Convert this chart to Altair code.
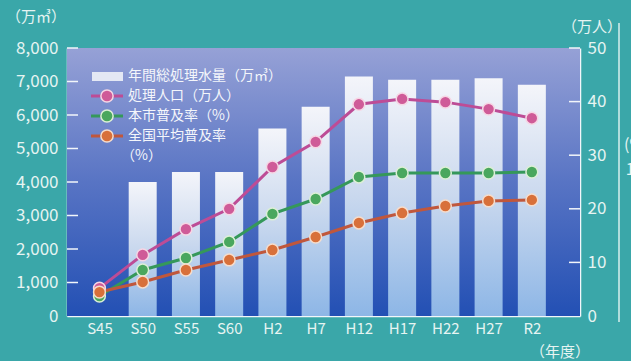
import altair as alt
import pandas as pd

# ---- data ----
years = ["S45", "S50", "S55", "S60", "H2", "H7", "H12", "H17", "H22", "H27", "R2"]
volume = [None, 4000, 4300, 4300, 5600, 6250, 7150, 7050, 7050, 7100, 6900]      # 万㎥
population = [5.2, 11.4, 16.2, 20.0, 27.8, 32.5, 39.5, 40.5, 39.9, 38.6, 36.9]   # 万人
city_rate = [13.7, 31.5, 39.7, 50.7, 69.9, 80.1, 95.2, 97.9, 97.9, 97.9, 98.6]   # %
national_rate = [16.4, 23.3, 31.5, 38.4, 45.2, 54.1, 63.7, 70.5, 75.3, 78.8, 79.5]  # %

left_ticks = [0, 1000, 2000, 3000, 4000, 5000, 6000, 7000, 8000]
right_ticks = [0, 10, 20, 30, 40, 50]
pct_ticks = [0, 20, 40, 60, 80, 100]

legend_labels = ["年間総処理水量（万㎥）", "処理人口（万人）", "本市普及率（%）", "全国平均普及率", "（%）"]

# ---- styling ----
W, H = 513, 268
FONT = "Noto Sans CJK JP"
BG = "#3aa7a9"
LABEL = "#e6f4f2"
WHITE = "#f2f6fa"
PINK_L, PINK_F, PINK_S = "#bd4c96", "#cf5b98", "#f6d6e4"
GREEN_L, GREEN_F, GREEN_S = "#35985a", "#4aa75e", "#dcefd6"
ORANGE_L, ORANGE_F, ORANGE_S = "#c0573c", "#d8703a", "#f6dccb"

df = pd.DataFrame({
    "idx": list(range(len(years))),
    "year": years,
    "volume": volume,
    "population": population,
    "city": city_rate,
    "national": national_rate,
})
one = pd.DataFrame({"a": [0]})

xscale = alt.Scale(domain=[-0.635, 10.998], nice=False, zero=False)
label_expr = "[" + ",".join("'%s'" % y for y in years) + "][datum.value]"
x_axis = alt.Axis(values=list(range(len(years))), labelExpr=label_expr, title=None,
                  ticks=False, grid=False, domainColor=WHITE, domainWidth=1.5,
                  labelColor=LABEL, labelFontSize=15, labelFont=FONT, labelPadding=5)
x_enc = alt.X("idx:Q", scale=xscale, axis=x_axis)

vol_scale = alt.Scale(domain=[0, 8000], nice=False, zero=True)
pop_scale = alt.Scale(domain=[0, 50], nice=False, zero=True)
pct_scale = alt.Scale(domain=[0, 183.5], nice=False, zero=True)

# background of plot area
bg = alt.Chart(one).mark_rect(
    color=alt.Gradient(gradient="linear", x1=0, x2=0, y1=0, y2=1,
                       stops=[alt.GradientStop(color="#96a1d6", offset=0),
                              alt.GradientStop(color="#5874c4", offset=0.5),
                              alt.GradientStop(color="#2350b4", offset=1)])
).encode(x=alt.value(0), x2=alt.value(W), y=alt.value(0), y2=alt.value(H))

bars = alt.Chart(df).mark_bar(
    size=28,
    color=alt.Gradient(gradient="linear", x1=0, x2=0, y1=0, y2=1,
                       stops=[alt.GradientStop(color="#f4f5fa", offset=0),
                              alt.GradientStop(color="#c9d8ee", offset=0.5),
                              alt.GradientStop(color="#8db6e6", offset=1)])
).encode(
    x=x_enc,
    y=alt.Y("volume:Q", scale=vol_scale,
            axis=alt.Axis(orient="left", values=left_ticks, format=",.0f", title=None,
                          ticks=False, grid=False, domainColor=WHITE, domainWidth=1.5,
                          labelColor=LABEL, labelFontSize=17, labelFont=FONT, labelPadding=9)),
)

lt = pd.DataFrame({"v": left_ticks[1:]})
left_tick_marks = alt.Chart(lt).mark_rule(color=WHITE, strokeWidth=1.5).encode(
    x=alt.value(0), x2=alt.value(11),
    y=alt.Y("v:Q", scale=vol_scale, axis=None))

rt = pd.DataFrame({"v": right_ticks[1:]})
right_tick_marks = alt.Chart(rt).mark_rule(color=WHITE, strokeWidth=1.5).encode(
    x=alt.value(W - 11), x2=alt.value(W),
    y=alt.Y("v:Q", scale=pop_scale, axis=None))

pink_line = alt.Chart(df).mark_line(color=PINK_L, strokeWidth=3).encode(
    x=x_enc,
    y=alt.Y("population:Q", scale=pop_scale,
            axis=alt.Axis(orient="right", values=right_ticks, title=None,
                          ticks=False, grid=False, domainColor=WHITE, domainWidth=1.5,
                          labelColor=LABEL, labelFontSize=17, labelFont=FONT, labelPadding=7)))
pink_pts = alt.Chart(df).mark_circle(size=140, color=PINK_F, opacity=1,
                                     stroke=PINK_S, strokeWidth=1.5).encode(
    x=x_enc, y=alt.Y("population:Q", scale=pop_scale, axis=None))

green_line = alt.Chart(df).mark_line(color=GREEN_L, strokeWidth=3).encode(
    x=x_enc,
    y=alt.Y("city:Q", scale=pct_scale,
            axis=alt.Axis(orient="right", offset=39, values=pct_ticks, title=None,
                          ticks=False, grid=False, domain=False,
                          labelColor=LABEL, labelFontSize=16, labelFont=FONT,
                          labelAlign="right", labelPadding=33)))
green_pts = alt.Chart(df).mark_circle(size=140, color=GREEN_F, opacity=1,
                                      stroke=GREEN_S, strokeWidth=1.5).encode(
    x=x_enc, y=alt.Y("city:Q", scale=pct_scale, axis=None))

orange_line = alt.Chart(df).mark_line(color=ORANGE_L, strokeWidth=3).encode(
    x=x_enc, y=alt.Y("national:Q", scale=pct_scale, axis=None))
orange_pts = alt.Chart(df).mark_circle(size=140, color=ORANGE_F, opacity=1,
                                       stroke=ORANGE_S, strokeWidth=1.5).encode(
    x=x_enc, y=alt.Y("national:Q", scale=pct_scale, axis=None))

# third (percent) axis line at the far right
third_line = alt.Chart(one).mark_rule(color="#d8efee", strokeWidth=1.5).encode(
    x=alt.value(552), y=alt.value(-25), y2=alt.value(274))


def txt(s, x, y, size, align="left", color=LABEL):
    return alt.Chart(one).mark_text(text=s, align=align, baseline="middle", font=FONT,
                                    fontSize=size, color=color).encode(
        x=alt.value(x), y=alt.value(y))


units = [
    txt("（万㎥）", -31, -31, 15, "center"),
    txt("（万人）", 525, -21, 15, "center"),
    txt("（年度）", 493, 304, 15, "center"),
    txt("(%)", 557, 97, 16, "left"),
]

# manual legend
LX = 61
legend_layers = []
row_y = [28, 48, 68, 88, 108]
row_x = [LX, LX, LX, LX, LX - 7]
for lab, yy, xx in zip(legend_labels, row_y, row_x):
    legend_layers.append(txt(lab, xx, yy, 14, "left", "#f4f6fb"))
legend_layers.append(
    alt.Chart(one).mark_rect(color="#e4e8f4").encode(
        x=alt.value(25), x2=alt.value(56), y=alt.value(24), y2=alt.value(33)))
for (lc, fc, sc), yy in zip([(PINK_L, PINK_F, PINK_S), (GREEN_L, GREEN_F, GREEN_S),
                             (ORANGE_L, ORANGE_F, ORANGE_S)], row_y[1:4]):
    legend_layers.append(
        alt.Chart(one).mark_rule(color=lc, strokeWidth=3).encode(
            x=alt.value(24), x2=alt.value(56), y=alt.value(yy)))
    legend_layers.append(
        alt.Chart(one).mark_circle(size=150, color=fc, opacity=1, stroke=sc,
                                   strokeWidth=1.5).encode(
            x=alt.value(40), y=alt.value(yy)))

chart = alt.layer(
    bg, bars, left_tick_marks, right_tick_marks,
    pink_line, green_line, orange_line,
    pink_pts, green_pts, orange_pts,
    third_line, *units, *legend_layers,
).resolve_scale(y="independent").properties(
    width=W, height=H,
    padding={"left": 67, "top": 48, "right": 51, "bottom": 45},
    autosize=alt.AutoSizeParams(type="none"),
    background=BG,
).configure_view(stroke=None)

chart.save("out.html", embed_options={"renderer": "svg", "actions": False})
